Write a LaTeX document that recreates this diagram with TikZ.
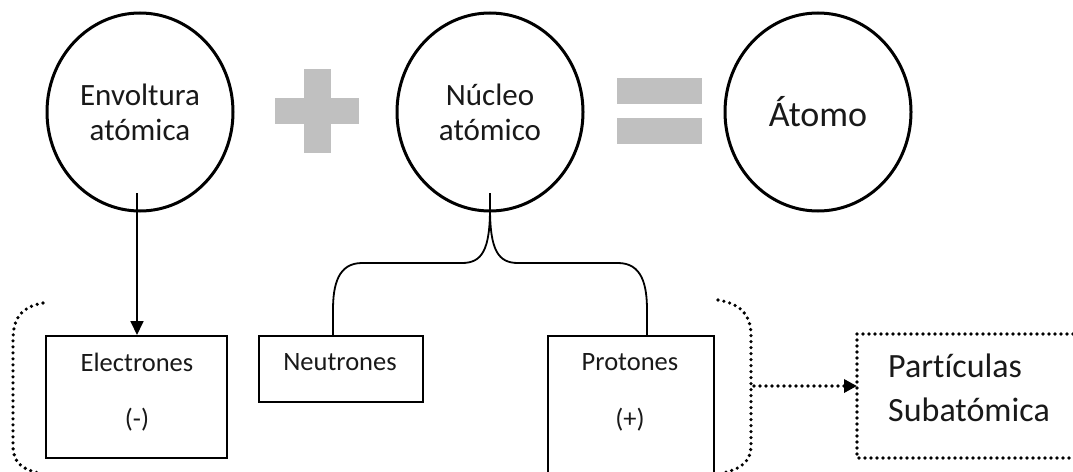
\documentclass[tikz,border=0pt]{standalone}
\usepackage{fontspec}
\setmainfont{Carlito}[Ligatures=NoCommon]
\usetikzlibrary{shapes.geometric,arrows.meta}
\begin{document}
\begin{tikzpicture}[x=1pt,y=-1pt,
  bigc/.style={draw, line width=3pt, ellipse, minimum width=186pt, minimum height=198pt, inner sep=0pt, align=center, font=\fontsize{31}{35}\selectfont, text=black!90},
  boxn/.style={draw, line width=2pt, rectangle, inner sep=0pt, anchor=north west},
  lbl/.style={font=\fontsize{26.5}{30}\selectfont, text=black!90, inner sep=0pt},
  biglbl/.style={font=\fontsize{34}{40}\selectfont, text=black!90, inner sep=0pt, anchor=base west},
  conn/.style={line width=1.8pt},
  dotl/.style={line width=3.6pt, line cap=round, dash pattern=on 0pt off 6pt},
  sym/.style={fill=symgray, draw=none}]
\definecolor{symgray}{HTML}{C0C0C0}
\useasboundingbox (0,0) rectangle (1073,471);
\fill[white] (0,0) rectangle (1073,471);

% top row
\node[bigc] (c1) at (140,112) {Envoltura\\atómica};
\node[bigc] (c2) at (490,112) {Núcleo\\atómico};
\node[bigc, font=\fontsize{36}{40}\selectfont] (c3) at (818,112) {Átomo};

% plus and equals
\fill[sym] (304,69) rectangle (331,153);
\fill[sym] (275,98) rectangle (359,124);
\fill[sym] (617,78) rectangle (702,104);
\fill[sym] (617,118) rectangle (702,144);

% boxes
\node[boxn, minimum width=181pt, minimum height=122pt] (elec) at (45,335) {};
\node[lbl] (elect) at (137,362) {Electrones};
\node[lbl] (elecm) at (137,420) {(-)};

\node[boxn, minimum width=164pt, minimum height=66pt] (neut) at (258,335) {};
\node[lbl] (neutt) at (340,362) {Neutrones};

\node[boxn, minimum width=166pt, minimum height=150pt] (prot) at (547,335) {};
\node[lbl] (prott) at (630,362) {Protones};
\node[lbl] (protm) at (630,420) {(+)};

\node[boxn, draw=none, minimum width=240pt, minimum height=122pt] (sub) at (857,334) {};
\draw[dotl] (sub.north west) rectangle (sub.south east);
\node[biglbl] (subt1) at (888,377) {Partículas};
\node[biglbl] (subt2) at (888,421) {Subatómica};

% arrow from envoltura
\coordinate (a1) at (137,193);
\draw[conn, -{Triangle[length=14pt,width=13pt]}] (a1) -- (a1 |- elec.north);

% brace from nucleo
\coordinate (b0) at (490,193);
\coordinate (bl) at (333,335);
\coordinate (br) at (647,335);
\draw[conn] (b0) -- (490,208) .. controls (490,250) and (482,263) .. (462,263) -- (362,263) .. controls (338,263) and (333,285) .. (333,310) -- (bl);
\draw[conn] (490,208) .. controls (490,250) and (498,263) .. (518,263) -- (618,263) .. controls (642,263) and (647,285) .. (647,310) -- (br);

% dotted parens
\coordinate (lp1) at (43,303);
\coordinate (lp2) at (40,473);
\draw[dotl] (lp1) .. controls (20,307) and (13,320) .. (13,340) -- (13,446) .. controls (13,462) and (22,470) .. (lp2);
\coordinate (rp1) at (718,300);
\coordinate (rp2) at (722,473);
\coordinate (rpm) at (754,386);
\draw[dotl] (rp1) .. controls (742,304) and (751,316) .. (751,336) -- (751,445) .. controls (751,461) and (742,469) .. (rp2);

% dotted arrow
\draw[dotl, -{Triangle[length=13pt,width=13pt]}] (rpm) -- (rpm -| sub.west);
\end{tikzpicture}
\end{document}
